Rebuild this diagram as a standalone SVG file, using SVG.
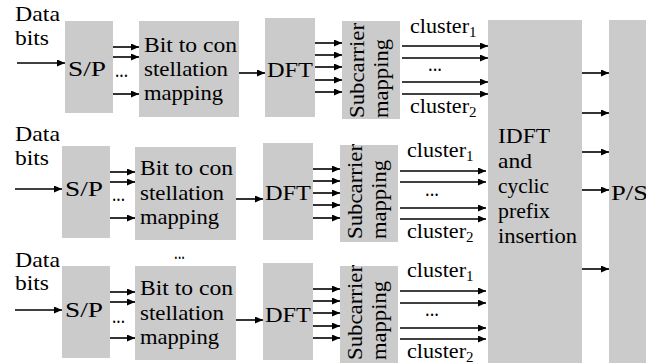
<svg xmlns="http://www.w3.org/2000/svg" width="646" height="363" viewBox="0 0 646 363">
  <style>
    .box { fill: #cbcbcb; stroke: none; }
    text { font-family: "Liberation Serif", "Times New Roman", "DejaVu Serif", serif; font-size: 21.5px; fill: #000; }
    .sub { font-size: 15px; }
    .arr { stroke: #000; stroke-width: 1.6; fill: none; marker-end: url(#head); }
  </style>
  <defs>
    <marker id="head" markerUnits="userSpaceOnUse" markerWidth="9" markerHeight="8" refX="8" refY="3.5" orient="auto">
      <path d="M0,0 L8,3.5 L0,7 Z" fill="#000"/>
    </marker>
  </defs>

  <!-- ===== Branch 1 ===== -->
  <g id="in1">
    <text x="15" y="21" textLength="45" lengthAdjust="spacingAndGlyphs">Data</text>
    <text x="15" y="45" textLength="34" lengthAdjust="spacingAndGlyphs">bits</text>
  </g>
  <g id="sp1">
    <rect class="box" x="65" y="21" width="48" height="92"/>
    <text x="68" y="76" textLength="38" lengthAdjust="spacingAndGlyphs">S/P</text>
  </g>
  <g id="map1">
    <rect class="box" x="139" y="21" width="100" height="96"/>
    <text x="144" y="52" textLength="93" lengthAdjust="spacingAndGlyphs">Bit to con</text>
    <text x="144" y="76" textLength="84" lengthAdjust="spacingAndGlyphs">stellation</text>
    <text x="144" y="100" textLength="79" lengthAdjust="spacingAndGlyphs">mapping</text>
  </g>
  <g id="dft1">
    <rect class="box" x="265" y="18" width="50" height="99"/>
    <text x="267" y="77" textLength="46" lengthAdjust="spacingAndGlyphs">DFT</text>
  </g>
  <g id="sc1">
    <rect class="box" x="342" y="21" width="58" height="98"/>
    <text transform="translate(364,118) rotate(-90)" textLength="95" lengthAdjust="spacingAndGlyphs">Subcarrier</text>
    <text transform="translate(388,118) rotate(-90)" textLength="79" lengthAdjust="spacingAndGlyphs">mapping</text>
  </g>

  <!-- ===== Branch 2 ===== -->
  <g id="in2">
    <text x="15" y="141" textLength="45" lengthAdjust="spacingAndGlyphs">Data</text>
    <text x="15" y="165" textLength="34" lengthAdjust="spacingAndGlyphs">bits</text>
  </g>
  <g id="sp2">
    <rect class="box" x="62" y="146" width="48" height="92"/>
    <text x="65" y="196" textLength="38" lengthAdjust="spacingAndGlyphs">S/P</text>
  </g>
  <g id="map2">
    <rect class="box" x="135" y="147" width="101" height="93"/>
    <text x="140" y="175" textLength="93" lengthAdjust="spacingAndGlyphs">Bit to con</text>
    <text x="140" y="200" textLength="84" lengthAdjust="spacingAndGlyphs">stellation</text>
    <text x="140" y="224" textLength="79" lengthAdjust="spacingAndGlyphs">mapping</text>
  </g>
  <g id="dft2">
    <rect class="box" x="263" y="143" width="50" height="97"/>
    <text x="265" y="200" textLength="46" lengthAdjust="spacingAndGlyphs">DFT</text>
  </g>
  <g id="sc2">
    <rect class="box" x="340" y="145" width="58" height="97"/>
    <text transform="translate(362,239) rotate(-90)" textLength="95" lengthAdjust="spacingAndGlyphs">Subcarrier</text>
    <text transform="translate(386,239) rotate(-90)" textLength="79" lengthAdjust="spacingAndGlyphs">mapping</text>
  </g>

  <!-- ===== Branch 3 ===== -->
  <g id="in3">
    <text x="15" y="267" textLength="45" lengthAdjust="spacingAndGlyphs">Data</text>
    <text x="15" y="290" textLength="34" lengthAdjust="spacingAndGlyphs">bits</text>
  </g>
  <g id="sp3">
    <rect class="box" x="62" y="266" width="48" height="92"/>
    <text x="65" y="317" textLength="38" lengthAdjust="spacingAndGlyphs">S/P</text>
  </g>
  <g id="map3">
    <text x="174" y="259" textLength="11" lengthAdjust="spacingAndGlyphs">...</text>
    <rect class="box" x="135" y="266" width="101" height="94"/>
    <text x="140" y="295" textLength="93" lengthAdjust="spacingAndGlyphs">Bit to con</text>
    <text x="140" y="320" textLength="84" lengthAdjust="spacingAndGlyphs">stellation</text>
    <text x="140" y="344" textLength="79" lengthAdjust="spacingAndGlyphs">mapping</text>
  </g>
  <g id="dft3">
    <rect class="box" x="263" y="263" width="50" height="97"/>
    <text x="265" y="322" textLength="46" lengthAdjust="spacingAndGlyphs">DFT</text>
  </g>
  <g id="sc3">
    <rect class="box" x="340" y="266" width="58" height="100"/>
    <text transform="translate(362,360) rotate(-90)" textLength="95" lengthAdjust="spacingAndGlyphs">Subcarrier</text>
    <text transform="translate(386,360) rotate(-90)" textLength="79" lengthAdjust="spacingAndGlyphs">mapping</text>
  </g>

  <!-- ===== Shared blocks ===== -->
  <g id="idft">
    <rect class="box" x="488" y="20" width="94" height="346"/>
    <text x="498" y="143" textLength="52" lengthAdjust="spacingAndGlyphs">IDFT</text>
    <text x="498" y="168" textLength="34" lengthAdjust="spacingAndGlyphs">and</text>
    <text x="498" y="193" textLength="51" lengthAdjust="spacingAndGlyphs">cyclic</text>
    <text x="498" y="218" textLength="52" lengthAdjust="spacingAndGlyphs">prefix</text>
    <text x="498" y="243" textLength="79" lengthAdjust="spacingAndGlyphs">insertion</text>
  </g>
  <g id="ps">
    <rect class="box" x="609" y="20" width="45" height="346"/>
    <text x="611" y="200" textLength="37" lengthAdjust="spacingAndGlyphs">P/S</text>
  </g>

  <!-- ===== Connectors and their labels ===== -->
  <g id="connectors">
    <!-- branch 1 -->
    <line class="arr" x1="17" y1="63" x2="65" y2="63"/>
    <line class="arr" x1="113" y1="47" x2="139" y2="47"/>
    <line class="arr" x1="113" y1="57" x2="139" y2="57"/>
    <line class="arr" x1="113" y1="94" x2="139" y2="94"/>
    <text x="115" y="77" textLength="13" lengthAdjust="spacingAndGlyphs">...</text>
    <line class="arr" x1="239" y1="73" x2="265" y2="73"/>
    <line class="arr" x1="315" y1="43" x2="342" y2="43"/>
    <line class="arr" x1="315" y1="55" x2="342" y2="55"/>
    <line class="arr" x1="315" y1="67" x2="342" y2="67"/>
    <line class="arr" x1="315" y1="80" x2="342" y2="80"/>
    <line class="arr" x1="315" y1="92" x2="342" y2="92"/>
    <text x="410" y="33"><tspan textLength="59" lengthAdjust="spacingAndGlyphs">cluster</tspan><tspan class="sub" dy="4">1</tspan></text>
    <line class="arr" x1="402" y1="46" x2="488" y2="46"/>
    <line class="arr" x1="402" y1="58" x2="488" y2="58"/>
    <line class="arr" x1="402" y1="82" x2="488" y2="82"/>
    <line class="arr" x1="402" y1="94" x2="488" y2="94"/>
    <text x="428" y="71" textLength="14" lengthAdjust="spacingAndGlyphs">...</text>
    <text x="410" y="113"><tspan textLength="59" lengthAdjust="spacingAndGlyphs">cluster</tspan><tspan class="sub" dy="4">2</tspan></text>

    <!-- branch 2 -->
    <line class="arr" x1="15" y1="189" x2="62" y2="189"/>
    <line class="arr" x1="110" y1="172" x2="135" y2="172"/>
    <line class="arr" x1="110" y1="182" x2="135" y2="182"/>
    <line class="arr" x1="110" y1="218" x2="135" y2="218"/>
    <text x="112" y="201" textLength="13" lengthAdjust="spacingAndGlyphs">...</text>
    <line class="arr" x1="236" y1="199" x2="263" y2="199"/>
    <line class="arr" x1="313" y1="169" x2="340" y2="169"/>
    <line class="arr" x1="313" y1="181" x2="340" y2="181"/>
    <line class="arr" x1="313" y1="193" x2="340" y2="193"/>
    <line class="arr" x1="313" y1="205" x2="340" y2="205"/>
    <line class="arr" x1="313" y1="218" x2="340" y2="218"/>
    <text x="407" y="157"><tspan textLength="59" lengthAdjust="spacingAndGlyphs">cluster</tspan><tspan class="sub" dy="4">1</tspan></text>
    <line class="arr" x1="400" y1="171" x2="486" y2="171"/>
    <line class="arr" x1="400" y1="182" x2="486" y2="182"/>
    <line class="arr" x1="400" y1="208" x2="486" y2="208"/>
    <line class="arr" x1="400" y1="219" x2="486" y2="219"/>
    <text x="425" y="196" textLength="14" lengthAdjust="spacingAndGlyphs">...</text>
    <text x="407" y="238"><tspan textLength="59" lengthAdjust="spacingAndGlyphs">cluster</tspan><tspan class="sub" dy="4">2</tspan></text>

    <!-- branch 3 -->
    <line class="arr" x1="15" y1="310" x2="62" y2="310"/>
    <line class="arr" x1="110" y1="292" x2="135" y2="292"/>
    <line class="arr" x1="110" y1="302" x2="135" y2="302"/>
    <line class="arr" x1="110" y1="338" x2="135" y2="338"/>
    <text x="112" y="323" textLength="13" lengthAdjust="spacingAndGlyphs">...</text>
    <line class="arr" x1="236" y1="320" x2="263" y2="320"/>
    <line class="arr" x1="313" y1="289" x2="340" y2="289"/>
    <line class="arr" x1="313" y1="301" x2="340" y2="301"/>
    <line class="arr" x1="313" y1="313" x2="340" y2="313"/>
    <line class="arr" x1="313" y1="326" x2="340" y2="326"/>
    <line class="arr" x1="313" y1="338" x2="340" y2="338"/>
    <text x="407" y="277"><tspan textLength="59" lengthAdjust="spacingAndGlyphs">cluster</tspan><tspan class="sub" dy="4">1</tspan></text>
    <line class="arr" x1="400" y1="291" x2="486" y2="291"/>
    <line class="arr" x1="400" y1="303" x2="486" y2="303"/>
    <line class="arr" x1="400" y1="328" x2="486" y2="328"/>
    <line class="arr" x1="400" y1="339" x2="486" y2="339"/>
    <text x="425" y="316" textLength="14" lengthAdjust="spacingAndGlyphs">...</text>
    <text x="407" y="358"><tspan textLength="59" lengthAdjust="spacingAndGlyphs">cluster</tspan><tspan class="sub" dy="4">2</tspan></text>

    <!-- IDFT to P/S -->
    <line class="arr" x1="582" y1="73" x2="609" y2="73"/>
    <line class="arr" x1="582" y1="113" x2="609" y2="113"/>
    <line class="arr" x1="582" y1="152" x2="609" y2="152"/>
    <line class="arr" x1="582" y1="190" x2="609" y2="190"/>
    <line class="arr" x1="582" y1="269" x2="609" y2="269"/>
  </g>
</svg>
